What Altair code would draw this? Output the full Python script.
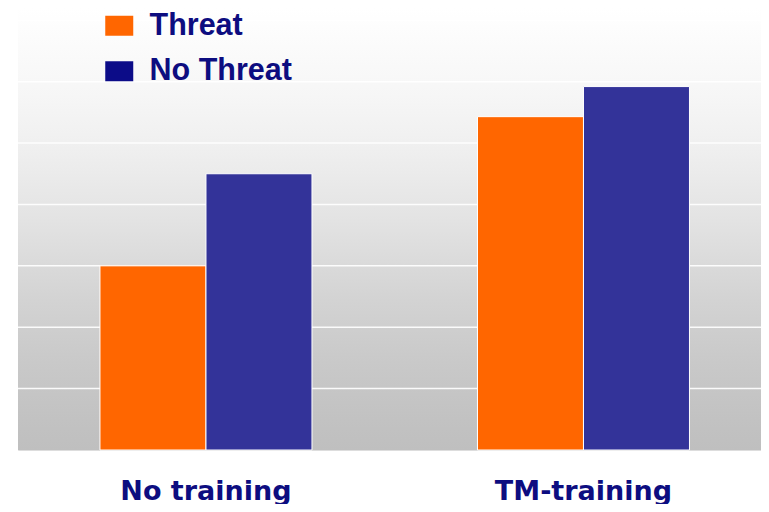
import altair as alt
import pandas as pd

groups = ["No training", "TM-training"]
series = ["Threat", "No Threat"]
threat = [30.0, 54.3]
no_threat = [45.0, 59.2]
grid_values = [10, 20, 30, 40, 50, 60, 70]

rows = []
for g, t, n in zip(groups, threat, no_threat):
    rows.append({"group": g, "series": "Threat", "value": t})
    rows.append({"group": g, "series": "No Threat", "value": n})
df = pd.DataFrame(rows)
grid_df = pd.DataFrame({"v": grid_values})
bg_df = pd.DataFrame({"a": [0]})

W, H = 743, 442
yscale = alt.Scale(domain=[0, 72], nice=False)
xscale = alt.Scale(paddingInner=0.43841, paddingOuter=0.20331, align=0.534)

bg = alt.Chart(bg_df).mark_rect(
    color=alt.LinearGradient(
        gradient="linear",
        stops=[
            alt.GradientStop(offset=0.0, color="#ffffff"),
            alt.GradientStop(offset=0.2, color="#f6f6f6"),
            alt.GradientStop(offset=0.32, color="#efefef"),
            alt.GradientStop(offset=0.48, color="#e3e3e3"),
            alt.GradientStop(offset=0.66, color="#d3d3d3"),
            alt.GradientStop(offset=0.8, color="#c9c9c9"),
            alt.GradientStop(offset=0.93, color="#c2c2c2"),
            alt.GradientStop(offset=1.0, color="#bfbfbf"),
        ],
        x1=0, x2=0, y1=0, y2=1,
    )
).encode(
    x=alt.value(0), x2=alt.value("width"),
    y=alt.value(0), y2=alt.value("height"),
)

grid = alt.Chart(grid_df).mark_rule(color="#ffffff", strokeWidth=1.5, opacity=0.9).encode(
    y=alt.Y("v:Q", scale=yscale, axis=None)
)

xaxis = alt.Axis(
    title=None, domain=False, ticks=False, tickSize=0,
    labelPadding=49, labelBaseline="alphabetic", labelAngle=0,
    labelFont="DejaVu Sans", labelFontWeight="bold", labelFontSize=27,
    labelColor="#0d0d80",
)

bars = alt.Chart(df).mark_bar(stroke="#ffffff", strokeWidth=1).encode(
    x=alt.X("group:N", sort=groups, scale=xscale, axis=xaxis),
    xOffset=alt.XOffset("series:N", sort=series),
    y=alt.Y("value:Q", scale=yscale, axis=None),
    color=alt.Color(
        "series:N", sort=series,
        scale=alt.Scale(domain=series, range=["#ff6600", "#333399"]),
        legend=None,
    ),
)

legend_layer = alt.Chart(df).mark_square(opacity=0, size=1).encode(
    x=alt.X("group:N", sort=groups, scale=xscale, axis=xaxis),
    y=alt.Y("value:Q", scale=yscale, axis=None),
    fill=alt.Fill(
        "series:N", sort=series,
        scale=alt.Scale(domain=series, range=["#ff6600", "#0c0c88"]),
        legend=alt.Legend(
            title=None, orient="none", legendX=86, legendY=2.5,
            padding=0, symbolType="M-1,-0.714H1V0.714H-1Z", symbolSize=784,
            symbolStrokeWidth=0, symbolOpacity=1, labelOffset=15, rowPadding=14.5,
            labelFont="Liberation Sans", labelFontWeight="bold", labelFontSize=30.5,
            labelColor="#0d0d80", labelLimit=400,
        ),
    ),
)

chart = alt.layer(bg, grid, bars, legend_layer).resolve_scale(
    color="independent", fill="independent"
).properties(
    width=W, height=H,
    autosize=alt.AutoSizeParams(type="none"),
    padding={"left": 10, "top": 0, "right": 0, "bottom": 54},
).configure_view(stroke=None).configure(background="#ffffff")

chart.save("out.html", embed_options={"renderer": "svg", "actions": False})
